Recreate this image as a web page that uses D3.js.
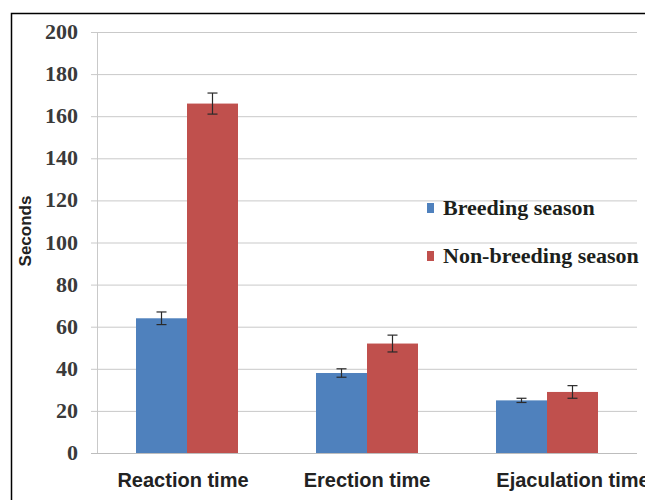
<!DOCTYPE html>
<html>
<head>
<meta charset="utf-8">
<script src="https://cdn.jsdelivr.net/npm/d3@7"></script>
<style>
  body { margin: 0; background: #fff; }
  svg { display: block; }
</style>
</head>
<body>
<div id="chart"></div>
<script>
// values
var categories = ["Reaction time", "Erection time", "Ejaculation time"]
var series = ["Breeding season", "Non-breeding season"]
var breeding = [64, 38, 25]
var breedingErr = [3, 2, 1]
var nonBreeding = [166, 52, 29]
var nonBreedingErr = [5, 4, 3]
var yTicks = [0, 20, 40, 60, 80, 100, 120, 140, 160, 180, 200]

var colors = ["#4f81bd", "#c0504d"]

var width = 645, height = 500
var m = { left: 97, right: 637, top: 32, bottom: 453 }

var svg = d3.select("#chart").append("svg")
    .attr("width", width)
    .attr("height", height)

// frame (top and left edges visible, rest cropped)
svg.append("path")
    .attr("d", "M11.5,500 L11.5,13.5 L645,13.5")
    .attr("fill", "none")
    .attr("stroke", "#000")
    .attr("stroke-width", 1.5)

var y = d3.scaleLinear().domain([0, 200]).range([m.bottom, m.top])

var x = d3.scaleBand().domain(categories).range([m.left, m.right]).padding(0)

var xs = d3.scaleBand().domain(series).range([0, x.bandwidth()])
    .paddingInner(0).paddingOuter(0.765)

// grid + ticks
var gy = svg.append("g").attr("transform", `translate(${m.right},0)`)
    .call(d3.axisLeft(y).tickValues(yTicks).tickSize(m.right - m.left + 6).tickFormat(""))
gy.select(".domain").remove()
gy.selectAll(".tick line").attr("stroke", "#c9c9c9").attr("stroke-width", 1)

svg.append("line")
    .attr("x1", m.left + 0.5).attr("x2", m.left + 0.5)
    .attr("y1", m.top).attr("y2", m.bottom)
    .attr("stroke", "#c9c9c9")

// y labels
svg.selectAll(".ylab").data(yTicks).enter()
    .append("text")
    .attr("class", "ylab")
    .attr("x", 78)
    .attr("y", d => y(d) + 7)
    .attr("text-anchor", "end")
    .style("font-family", "'Liberation Serif', serif")
    .style("font-weight", "bold")
    .style("font-size", "22px")
    .attr("fill", "#3a3a3a")
    .text(d => d)

svg.append("text")
    .attr("transform", "translate(31,231) rotate(-90)")
    .attr("text-anchor", "middle")
    .style("font-family", "'Liberation Sans', Arial, sans-serif")
    .style("font-weight", "bold")
    .style("font-size", "17px")
    .attr("fill", "#222")
    .text("Seconds")

// bars
var rows = categories.map((c, i) => ({
    cat: c,
    vals: [
        { s: series[0], v: breeding[i], e: breedingErr[i], k: 0 },
        { s: series[1], v: nonBreeding[i], e: nonBreedingErr[i], k: 1 }
    ]
}))

var groups = svg.selectAll(".grp").data(rows).enter()
    .append("g")
    .attr("class", "grp")
    .attr("transform", d => `translate(${x(d.cat)},0)`)

groups.selectAll("rect").data(d => d.vals).enter()
    .append("rect")
    .attr("x", d => xs(d.s))
    .attr("y", d => y(d.v))
    .attr("width", xs.bandwidth())
    .attr("height", d => m.bottom - y(d.v))
    .attr("fill", d => colors[d.k])

// error bars
var errs = groups.selectAll(".err").data(d => d.vals).enter()
    .append("g")
    .attr("class", "err")
    .attr("stroke", "#2a2a2a")
    .attr("stroke-width", 1.2)

errs.append("line")
    .attr("x1", d => xs(d.s) + xs.bandwidth() / 2)
    .attr("x2", d => xs(d.s) + xs.bandwidth() / 2)
    .attr("y1", d => y(d.v - d.e))
    .attr("y2", d => y(d.v + d.e))

errs.selectAll(".cap").data(d => [[d, d.v - d.e], [d, d.v + d.e]]).enter()
    .append("line")
    .attr("x1", d => xs(d[0].s) + xs.bandwidth() / 2 - 5)
    .attr("x2", d => xs(d[0].s) + xs.bandwidth() / 2 + 5)
    .attr("y1", d => y(d[1]))
    .attr("y2", d => y(d[1]))

// bottom axis line
svg.append("line")
    .attr("x1", m.left - 6).attr("x2", m.right)
    .attr("y1", m.bottom + 0.5).attr("y2", m.bottom + 0.5)
    .attr("stroke", "#bdbdbd")

// category labels - last one sits further right in the original and runs off the edge
var labelShift = [-4, 0, 26]
svg.selectAll(".xlab").data(categories).enter()
    .append("text")
    .attr("class", "xlab")
    .attr("x", (d, i) => x(d) + x.bandwidth() / 2 + labelShift[i])
    .attr("y", 487)
    .attr("text-anchor", "middle")
    .style("font-family", "'Liberation Sans', Arial, sans-serif")
    .style("font-weight", "bold")
    .style("font-size", "20px")
    .attr("fill", "#222")
    .text(d => d)

// legend
var legend = svg.selectAll(".leg").data(series).enter()
    .append("g")
    .attr("class", "leg")
    .attr("transform", (d, i) => `translate(427,${203 + i * 48})`)

legend.append("rect")
    .attr("width", 7)
    .attr("height", 10)
    .attr("fill", (d, i) => colors[i])

legend.append("text")
    .attr("x", 16)
    .attr("y", 12)
    .style("font-family", "'Liberation Serif', serif")
    .style("font-weight", "bold")
    .style("font-size", "22px")
    .attr("fill", "#1c1f1c")
    .text(d => d)
</script>
</body>
</html>
